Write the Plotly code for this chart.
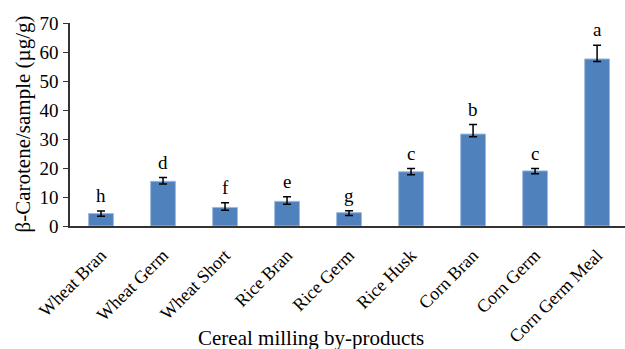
import plotly.graph_objects as go

categories = ["Wheat Bran", "Wheat Germ", "Wheat Short", "Rice Bran", "Rice Germ",
              "Rice Husk", "Corn Bran", "Corn Germ", "Corn Germ Meal"]
values = [4.3, 15.4, 6.4, 8.5, 4.6, 18.7, 31.7, 19.0, 57.6]
err_plus = [0.9, 1.3, 1.6, 1.6, 0.7, 1.1, 3.3, 0.8, 4.7]
err_minus = [0.9, 0.9, 1.0, 1.0, 1.0, 1.0, 0.9, 1.0, 0.9]
letters = ["h", "d", "f", "e", "g", "c", "b", "c", "a"]
y_ticks = [0, 10, 20, 30, 40, 50, 60, 70]

FONT = "Liberation Serif, Times New Roman, serif"

fig = go.Figure()
fig.add_trace(go.Bar(
    x=categories, y=values,
    marker=dict(color="#4F81BD", line=dict(color="#9DB9DE", width=1)),
    error_y=dict(type="data", symmetric=False, array=err_plus, arrayminus=err_minus,
                 color="black", thickness=1.5, width=4),
    width=0.4,
))

for c, v, e, l in zip(categories, values, err_plus, letters):
    fig.add_annotation(x=c, y=v + e, text=l, showarrow=False, yanchor="bottom",
                       yshift=3, font=dict(family=FONT, size=19, color="black"))

fig.add_annotation(xref="paper", yref="paper", x=0.434, y=0.0, yshift=-112,
                   text="Cereal milling by-products", showarrow=False,
                   xanchor="center", yanchor="middle",
                   font=dict(family=FONT, size=21, color="black"))
fig.add_annotation(xref="paper", yref="paper", x=0, xshift=-48, y=0.5,
                   text="β-Carotene/sample (µg/g)", showarrow=False, textangle=-90,
                   xanchor="center", yanchor="middle",
                   font=dict(family=FONT, size=21, color="black"))

fig.update_layout(
    width=625, height=349,
    margin=dict(l=70, r=0, t=23, b=123),
    paper_bgcolor="white", plot_bgcolor="white",
    showlegend=False,
    font=dict(family=FONT, color="black"),
)
fig.update_xaxes(
    range=[-0.5, 8.45], tickangle=-45, showline=True, linecolor="#333333", linewidth=1.5,
    ticks="", ticklabelstandoff=10, automargin=False,
    tickfont=dict(family=FONT, size=18, color="black"),
)
fig.update_yaxes(
    range=[0, 70], tickvals=y_ticks, showline=True, linecolor="#333333", linewidth=1.5,
    ticks="outside", ticklen=5, tickcolor="#333333", showgrid=False, zeroline=False,
    automargin=False, ticklabelstandoff=1,
    tickfont=dict(family=FONT, size=19, color="black"),
)

fig.write_html("out.html", config={"displayModeBar": False},
               post_script="document.body.style.margin='0';")
